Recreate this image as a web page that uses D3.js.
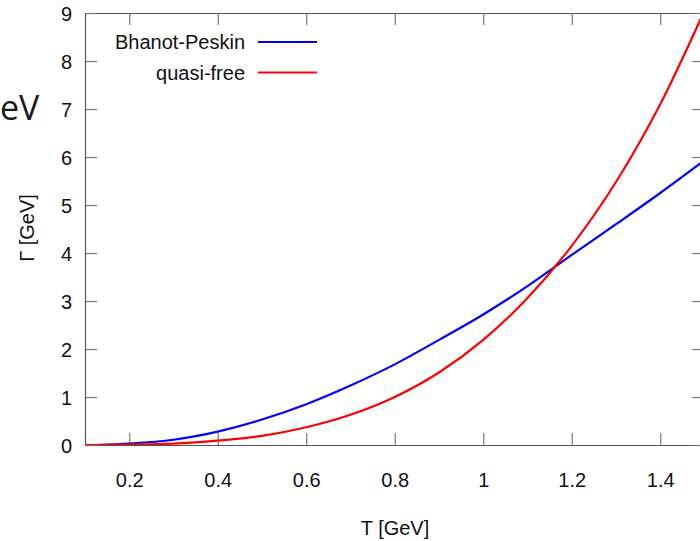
<!DOCTYPE html>
<html>
<head>
<meta charset="utf-8">
<script src="https://cdn.jsdelivr.net/npm/d3@7"></script>
<style>
  body { margin: 0; background: #fff; }
  svg { display: block; font-family: "Liberation Sans", Arial, sans-serif; }
</style>
</head>
<body>
<svg id="chart" width="700" height="541"></svg>
<script>
// Values
const bpT = [0.13, 0.2, 0.3, 0.4, 0.5, 0.6, 0.7, 0.8, 0.9, 1.0, 1.1, 1.2, 1.3, 1.4, 1.5];
const bpGamma = [0, 0.03, 0.11, 0.28, 0.53, 0.85, 1.24, 1.68, 2.19, 2.72, 3.31, 3.96, 4.6, 5.25, 5.93];

const qfT = [0.1, 0.2, 0.3, 0.4, 0.5, 0.6, 0.7, 0.8, 0.9, 1.0, 1.1, 1.2, 1.3, 1.4, 1.5];
const qfGamma = [0, 0.01, 0.03, 0.09, 0.19, 0.37, 0.63, 1.0, 1.51, 2.19, 3.06, 4.15, 5.48, 7.1, 9.05];

const xTicks = [0.2, 0.4, 0.6, 0.8, 1.0, 1.2, 1.4];
const yTicks = [0, 1, 2, 3, 4, 5, 6, 7, 8, 9];

const seriesNames = ["Bhanot-Peskin", "quasi-free"];
const seriesColors = ["#0000ff", "#ff0000"];

// Plot box (right edge runs past the cropped picture)
const box = { left: 85, right: 704.5, top: 13, bottom: 445 };

const svg = d3.select("#chart");

const x = d3.scaleLinear().domain([0.1, 1.5]).range([box.left, box.right]);
const y = d3.scaleLinear().domain([0, 9]).range([box.bottom, box.top]);

// clip for the curves
svg.append("clipPath").attr("id", "plotclip")
    .append("rect")
    .attr("x", box.left).attr("y", box.top)
    .attr("width", box.right - box.left).attr("height", box.bottom - box.top);

// axes, gnuplot style ticks pointing inward
const fmt = d3.format("~g");

svg.append("g")
    .attr("transform", `translate(0,${box.bottom})`)
    .call(d3.axisBottom(x).tickValues(xTicks).tickFormat(fmt)
        .tickSizeInner(-12).tickSizeOuter(0).tickPadding(28));

svg.append("g")
    .attr("transform", `translate(0,${box.top})`)
    .call(d3.axisTop(x).tickValues(xTicks).tickFormat("")
        .tickSizeInner(-12).tickSizeOuter(0));

const yAxis = svg.append("g")
    .attr("transform", `translate(${box.left},0)`)
    .call(d3.axisLeft(y).tickValues(yTicks).tickFormat(fmt)
        .tickSizeInner(-12).tickSizeOuter(0).tickPadding(13));

svg.append("g")
    .attr("transform", `translate(${box.right},0)`)
    .call(d3.axisRight(y).tickValues(yTicks).tickFormat("")
        .tickSizeInner(-12).tickSizeOuter(0));

svg.selectAll(".domain").attr("stroke", "#555").attr("stroke-width", 1.2);
svg.selectAll(".tick line").attr("stroke", "#777").attr("stroke-width", 1.2);
svg.selectAll(".tick text")
    .attr("fill", "#111")
    .style("font-size", "20px")
    .style("font-family", "'Liberation Sans', Arial, sans-serif");
yAxis.selectAll(".tick text").attr("dy", "0.38em");

// curves
const line = d3.line()
    .x(d => x(d[0]))
    .y(d => y(d[1]))
    .curve(d3.curveMonotoneX);

const series = [
    d3.zip(bpT, bpGamma),
    d3.zip(qfT, qfGamma)
];

svg.append("g")
    .attr("clip-path", "url(#plotclip)")
    .selectAll("path")
    .data(series)
    .enter()
    .append("path")
    .attr("d", line)
    .attr("fill", "none")
    .attr("stroke", (d, i) => seriesColors[i])
    .attr("stroke-width", 2.2);

// legend
const legend = svg.append("g");
seriesNames.forEach((name, i) => {
    const ly = 42 + i * 30.5;
    legend.append("text")
        .attr("x", 245)
        .attr("y", ly)
        .attr("dy", "0.36em")
        .attr("text-anchor", "end")
        .attr("fill", "#111")
        .style("font-size", "20px")
        .text(name);
    legend.append("line")
        .attr("x1", 258).attr("x2", 317)
        .attr("y1", ly).attr("y2", ly)
        .attr("stroke", seriesColors[i])
        .attr("stroke-width", 2.2);
});

// axis titles
svg.append("text")
    .attr("x", 395)
    .attr("y", 535)
    .attr("text-anchor", "middle")
    .attr("fill", "#111")
    .style("font-size", "20px")
    .text("T [GeV]");

svg.append("text")
    .attr("transform", "translate(34,228) rotate(-90)")
    .attr("text-anchor", "middle")
    .attr("fill", "#111")
    .style("font-size", "20px")
    .text("Γ [GeV]");

// piece of a neighbouring label at the left edge
svg.append("text")
    .attr("x", 0)
    .attr("y", 120)
    .attr("fill", "#1a1a1a")
    .style("font-size", "34px")
    .style("font-family", "'Open Sans', sans-serif")
    .text("eV");
</script>
</body>
</html>
